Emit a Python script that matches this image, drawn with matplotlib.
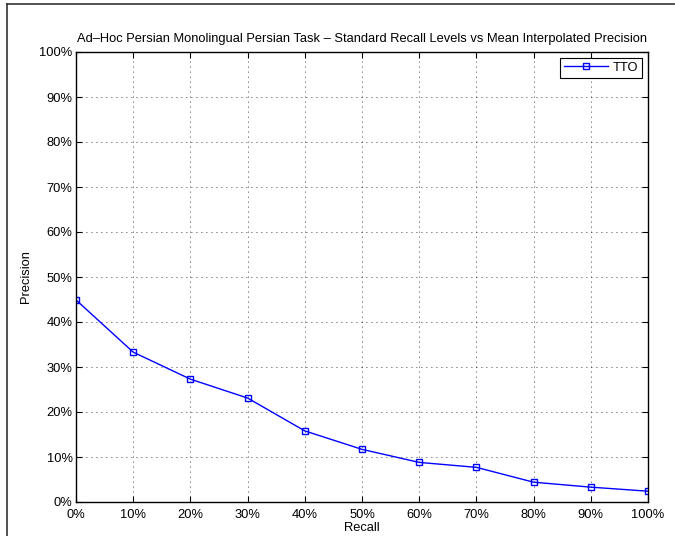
import matplotlib
matplotlib.use("Agg")
import matplotlib.pyplot as plt
from matplotlib.lines import Line2D
from matplotlib.ticker import FuncFormatter

recall = [0, 10, 20, 30, 40, 50, 60, 70, 80, 90, 100]
precision_tto = [44.9, 33.3, 27.3, 23.1, 15.8, 11.7, 8.8, 7.7, 4.4, 3.3, 2.4]
series_label = "TTO"

plt.rcParams["font.family"] = ["Liberation Sans", "DejaVu Sans"]
plt.rcParams["font.size"] = 9.3

fig = plt.figure(figsize=(6.75, 5.36), dpi=100)
ax = fig.add_axes([76 / 675, 34 / 536, (648 - 76) / 675, (502 - 52) / 536])

ax.plot(recall, precision_tto, color="blue", linewidth=1, marker="s",
        markersize=5, markerfacecolor="none", markeredgecolor="blue",
        markeredgewidth=1, label=series_label)

ax.set_xlim(0, 100)
ax.set_ylim(0, 100)
ax.set_xticks(range(0, 101, 10))
ax.set_yticks(range(0, 101, 10))
pct = FuncFormatter(lambda v, p: "%d%%" % v)
ax.xaxis.set_major_formatter(pct)
ax.yaxis.set_major_formatter(pct)
ax.tick_params(direction="in", top=True, right=True, length=4.5, width=0.8,
               labelsize=9.3)
ax.tick_params(axis="x", pad=5)
ax.tick_params(axis="y", pad=2.5)
ax.grid(True, linestyle=(0, (1, 5)), color="black", linewidth=0.6)
for s in ax.spines.values():
    s.set_linewidth(1.0)

ax.set_title("Ad–Hoc Persian Monolingual Persian Task – Standard Recall Levels vs Mean Interpolated Precision",
             fontsize=9.3, pad=7)
ax.set_xlabel("Recall", fontsize=9.3, labelpad=0.5)
ax.set_ylabel("Precision", fontsize=9.3, labelpad=5)

leg = ax.legend(loc="upper right", fancybox=False, framealpha=1,
                edgecolor="black", fontsize=9.3, handlelength=3.4,
                borderaxespad=0.45, borderpad=0.3, handletextpad=0.4)
leg.get_frame().set_linewidth(0.8)

# partial frame visible at top and left of the original image
fig.add_artist(Line2D([7 / 675, 1], [1 - 4 / 536, 1 - 4 / 536],
                      color="#333333", linewidth=1.2, transform=fig.transFigure))
fig.add_artist(Line2D([7 / 675, 7 / 675], [0, 1 - 4 / 536],
                      color="#333333", linewidth=1.2, transform=fig.transFigure))

fig.savefig("out.png", dpi=100)
